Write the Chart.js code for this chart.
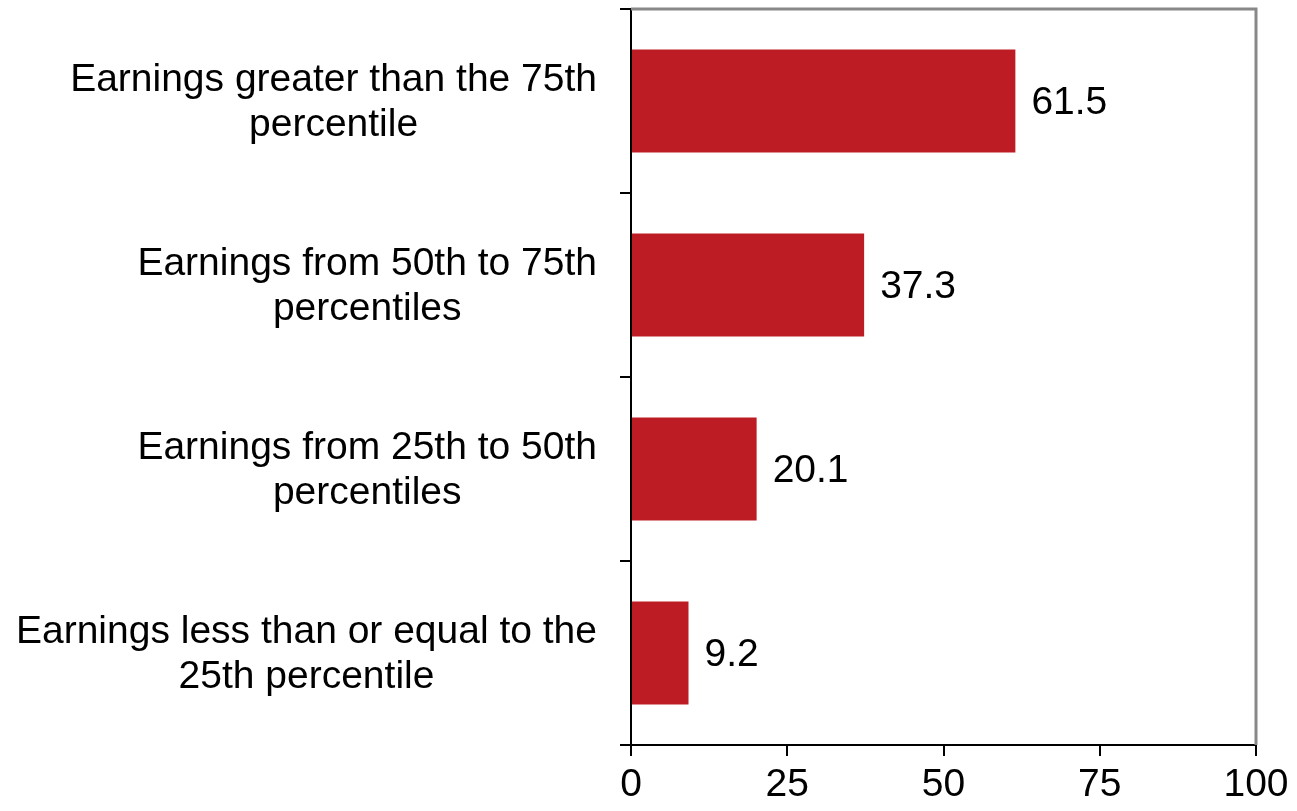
<!DOCTYPE html>
<html>
<head>
<meta charset="utf-8">
<script src="https://cdn.jsdelivr.net/npm/chart.js@4"></script>
<style>
  html, body { margin: 0; padding: 0; background: #fff; }
  #wrap { width: 1297px; height: 811px; }
</style>
</head>
<body>
<div id="wrap"><canvas id="earningsChart" width="1297" height="811"></canvas></div>
<script>
// category labels (two lines each) and values
var categories = [
    ['Earnings greater than the 75th', 'percentile'],
    ['Earnings from 50th to 75th', 'percentiles'],
    ['Earnings from 25th to 50th', 'percentiles'],
    ['Earnings less than or equal to the', '25th percentile']
];
var values = [61.5, 37.3, 20.1, 9.2];
var xTicks = [0, 25, 50, 75, 100];

var FONT = '"Liberation Sans", Arial, sans-serif';
var FONT_SIZE = 39;
var LINE_GAP = 45;

// gray frame on the top and right of the plot area
var framePlugin = {
    id: 'frame',
    afterDraw: function (chart) {
        var a = chart.chartArea;
        var ctx = chart.ctx;
        ctx.save();
        ctx.strokeStyle = '#888888';
        ctx.lineWidth = 3;
        ctx.beginPath();
        ctx.moveTo(a.left, a.top);
        ctx.lineTo(a.right, a.top);
        ctx.lineTo(a.right, a.bottom);
        ctx.stroke();
        ctx.restore();
    }
};

// category text: block right-aligned to the axis, lines centred inside the block
var categoryLabels = {
    id: 'categoryLabels',
    afterDraw: function (chart) {
        var ctx = chart.ctx;
        var yScale = chart.scales.y;
        var rightEdge = yScale.right - 11 - 23;
        ctx.save();
        ctx.font = FONT_SIZE + 'px ' + FONT;
        ctx.fillStyle = '#000';
        ctx.textAlign = 'center';
        ctx.textBaseline = 'middle';
        categories.forEach(function (lines, i) {
            var w = Math.max.apply(null, lines.map(function (s) { return ctx.measureText(s).width; }));
            var cx = rightEdge - w / 2;
            var cy = yScale.getPixelForValue(i);
            var top = cy - (lines.length - 1) * LINE_GAP / 2;
            lines.forEach(function (s, j) {
                ctx.fillText(s, cx, top + j * LINE_GAP + 2);
            });
        });
        ctx.restore();
    }
};

// value text to the right of each bar
var valueLabels = {
    id: 'valueLabels',
    afterDatasetsDraw: function (chart) {
        var ctx = chart.ctx;
        var meta = chart.getDatasetMeta(0);
        ctx.save();
        ctx.font = FONT_SIZE + 'px ' + FONT;
        ctx.fillStyle = '#000';
        ctx.textAlign = 'left';
        ctx.textBaseline = 'middle';
        meta.data.forEach(function (bar, i) {
            ctx.fillText(values[i].toFixed(1), bar.x + 16, bar.y + 2);
        });
        ctx.restore();
    }
};

var ctx = document.getElementById('earningsChart').getContext('2d');
var earningsChart = new Chart(ctx, {
    type: 'bar',
    data: {
        labels: categories,
        datasets: [{
            data: values,
            backgroundColor: '#BE1C24',
            borderWidth: 0,
            barPercentage: 0.56,
            categoryPercentage: 1.0
        }]
    },
    options: {
        indexAxis: 'y',
        responsive: false,
        animation: false,
        layout: {
            padding: { top: 9, right: 41, left: 0, bottom: 0 }
        },
        plugins: {
            legend: { display: false },
            tooltip: { enabled: false }
        },
        scales: {
            x: {
                min: 0,
                max: 100,
                afterBuildTicks: function (axis) {
                    axis.ticks = xTicks.map(function (v) { return { value: v }; });
                },
                afterFit: function (axis) {
                    axis.height = 66;
                    axis.paddingLeft = 0;
                    axis.paddingRight = 0;
                },
                grid: {
                    drawOnChartArea: false,
                    drawTicks: true,
                    tickLength: 11,
                    color: '#000',
                    lineWidth: 2
                },
                border: { color: '#000', width: 2 },
                ticks: {
                    color: '#000',
                    padding: 10,
                    maxRotation: 0,
                    font: { family: FONT, size: FONT_SIZE, lineHeight: 1.0 }
                }
            },
            y: {
                offset: true,
                afterFit: function (axis) {
                    axis.width = 631;
                    axis.paddingTop = 0;
                    axis.paddingBottom = 0;
                },
                grid: {
                    offset: true,
                    drawOnChartArea: false,
                    drawTicks: true,
                    tickLength: 11,
                    color: '#000',
                    lineWidth: 2
                },
                border: { color: '#000', width: 2 },
                ticks: { display: false }
            }
        }
    },
    plugins: [framePlugin, categoryLabels, valueLabels]
});
</script>
</body>
</html>
